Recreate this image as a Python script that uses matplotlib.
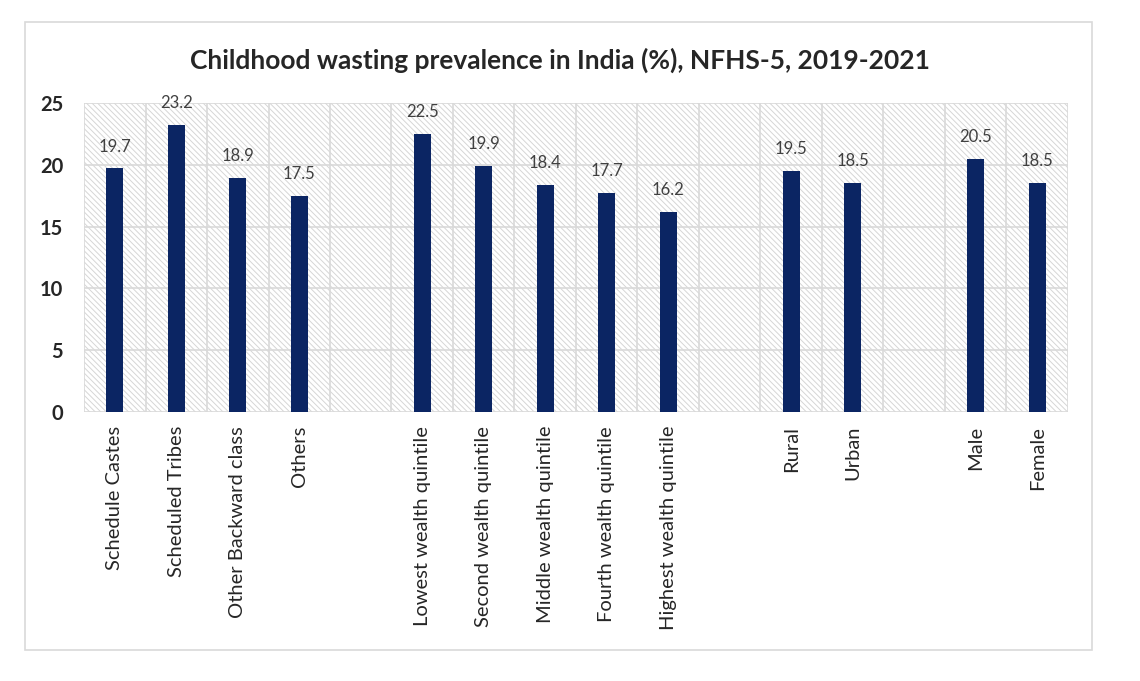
import matplotlib.pyplot as plt
from matplotlib.patches import Rectangle
import numpy as np

plt.rcParams['font.family'] = ['Lato', 'DejaVu Sans']
plt.rcParams['hatch.linewidth'] = 0.7

# data, grouped as in the source chart (a blank slot sits between groups)
caste_labels = ["Schedule Castes", "Scheduled Tribes", "Other Backward class", "Others"]
caste_values = [19.7, 23.2, 18.9, 17.5]
wealth_labels = ["Lowest wealth quintile", "Second wealth quintile", "Middle wealth quintile",
                 "Fourth wealth quintile", "Highest wealth quintile"]
wealth_values = [22.5, 19.9, 18.4, 17.7, 16.2]
area_labels = ["Rural", "Urban"]
area_values = [19.5, 18.5]
sex_labels = ["Male", "Female"]
sex_values = [20.5, 18.5]

title = "Childhood wasting prevalence in India (%), NFHS-5, 2019-2021"
y_ticks = [0, 5, 10, 15, 20, 25]

bar_color = '#0B2563'
grid_color = '#D9D9D9'
text_color = '#404040'

groups = [(caste_labels, caste_values), (wealth_labels, wealth_values),
          (area_labels, area_values), (sex_labels, sex_values)]

labels, values, positions = [], [], []
pos = 0
for g_labels, g_values in groups:
    for lab, val in zip(g_labels, g_values):
        labels.append(lab)
        values.append(val)
        positions.append(pos)
        pos += 1
    pos += 1  # empty slot between groups
n_slots = pos - 1

fig = plt.figure(figsize=(11.4, 6.81), dpi=100)
ax = fig.add_axes([0.0737, 0.395, 0.8631, 0.4538])

# outer chart border
fig.patches.append(Rectangle((25 / 1140, 1 - 650 / 681), (1092 - 25) / 1140, (650 - 22) / 681,
                             transform=fig.transFigure, fill=False, edgecolor='#D9D9D9',
                             linewidth=1.2))

ax.set_xlim(-0.5, n_slots - 0.5)
ax.set_ylim(0, 25)

# hatched plot background
ax.add_patch(Rectangle((0, 0), 1, 1, transform=ax.transAxes, facecolor='white',
                       edgecolor='#D6D6D6', hatch='\\\\\\\\\\\\', linewidth=0, zorder=0))

bars = ax.bar(positions, values, width=0.27, color=bar_color, zorder=3)
for x, v in zip(positions, values):
    ax.annotate(f"{v}", (x, v), xytext=(0, 10), textcoords='offset points',
                ha='center', va='bottom', fontsize=12, color=text_color)

# grid
for y in y_ticks:
    ax.axhline(y, color=grid_color, linewidth=1.2, zorder=1)
for i in range(n_slots + 1):
    ax.axvline(i - 0.5, color=grid_color, linewidth=1.2, zorder=1)

for s in ax.spines.values():
    s.set_visible(False)

ax.set_yticks(y_ticks)
ax.set_yticklabels([str(t) for t in y_ticks], fontsize=14.5, color='#262626', fontweight='bold')
ax.tick_params(axis='y', length=0, pad=15)
ax.set_xticks(positions)
ax.set_xticklabels(labels, rotation=90, fontsize=14.5, color='#262626', va='top')
ax.tick_params(axis='x', length=0, pad=10)

fig.text(0.491, 0.912, title, ha='center', va='center', fontsize=19, fontweight='bold',
         color='#262626')

fig.savefig('out.png', dpi=100)
